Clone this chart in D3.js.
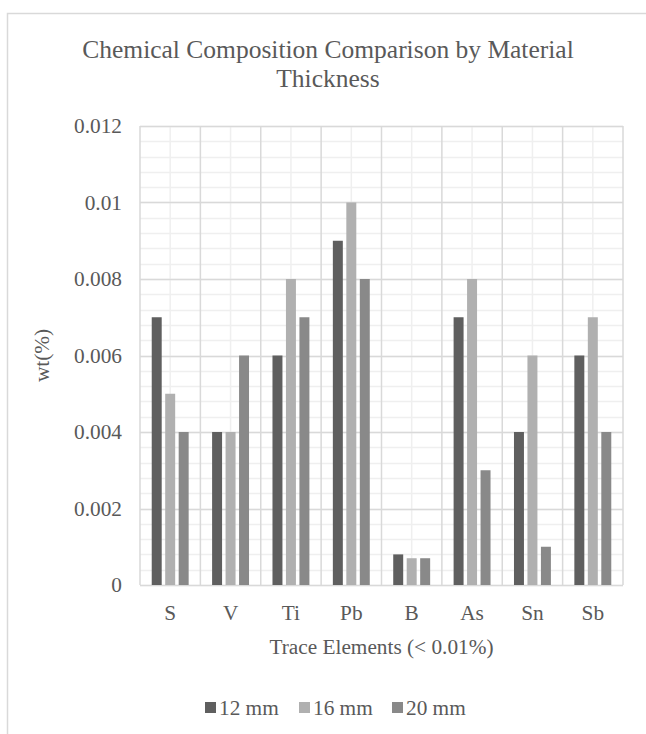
<!DOCTYPE html>
<html>
<head>
<meta charset="utf-8">
<script src="https://cdn.jsdelivr.net/npm/d3@7"></script>
<style>
body{margin:0;background:#fff;}
text{font-family:"Liberation Serif","Times New Roman",serif;fill:#595959;}
</style>
</head>
<body>
<div id="chart"></div>
<script>
var elements = ["S", "V", "Ti", "Pb", "B", "As", "Sn", "Sb"];
var seriesNames = ["12 mm", "16 mm", "20 mm"];
var mm12 = [0.007, 0.004, 0.006, 0.009, 0.0008, 0.007, 0.004, 0.006];
var mm16 = [0.005, 0.004, 0.008, 0.010, 0.0007, 0.008, 0.006, 0.007];
var mm20 = [0.004, 0.006, 0.007, 0.008, 0.0007, 0.003, 0.001, 0.004];
var yTicks = [0, 0.002, 0.004, 0.006, 0.008, 0.01, 0.012];
var colors = ["#5f5f5f", "#b0b0b0", "#898989"];

var W = 646, H = 734;
var plot = {left: 140, right: 623, top: 126, bottom: 585};
var fs = 21.3;

var svg = d3.select("#chart").append("svg")
    .attr("width", W).attr("height", H);

//chart border, runs off the right and bottom
svg.append("rect")
    .attr("x", 7.5).attr("y", 13.5)
    .attr("width", W + 20).attr("height", H + 20)
    .attr("fill", "none").attr("stroke", "#d9d9d9").attr("stroke-width", 1.5);

var x = d3.scaleBand().domain(elements).range([plot.left, plot.right]);
var y = d3.scaleLinear().domain([0, 0.012]).range([plot.bottom, plot.top]);
var inner = d3.scaleBand().domain(seriesNames)
    .range([0, x.bandwidth()]).paddingInner(0.26).paddingOuter(0.87);

function py(d){ return Math.round(y(d)) + 0.5; }

//minor gridlines
var minor = d3.range(0, 0.0120001, 0.0004);
svg.append("g").selectAll("line").data(minor).enter().append("line")
    .attr("x1", plot.left).attr("x2", plot.right)
    .attr("y1", py).attr("y2", py)
    .attr("stroke", "#efefef").attr("stroke-width", 1.5);
svg.append("g").selectAll("line").data(elements).enter().append("line")
    .attr("x1", function(d){ return x(d) + x.bandwidth()/2; })
    .attr("x2", function(d){ return x(d) + x.bandwidth()/2; })
    .attr("y1", plot.top).attr("y2", plot.bottom)
    .attr("stroke", "#efefef").attr("stroke-width", 1.5);

//major gridlines
svg.append("g").selectAll("line").data(yTicks).enter().append("line")
    .attr("x1", plot.left).attr("x2", plot.right)
    .attr("y1", py).attr("y2", py)
    .attr("stroke", "#d9d9d9").attr("stroke-width", 1.5);
var bounds = elements.map(function(d){ return x(d); }).concat([plot.right]);
svg.append("g").selectAll("line").data(bounds).enter().append("line")
    .attr("x1", function(d){ return d; }).attr("x2", function(d){ return d; })
    .attr("y1", plot.top).attr("y2", plot.bottom)
    .attr("stroke", "#d9d9d9").attr("stroke-width", 1.5);

//bars
var series = [mm12, mm16, mm20];
series.forEach(function(vals, s){
    svg.append("g").selectAll("rect").data(vals).enter().append("rect")
        .attr("x", function(d, i){ return x(elements[i]) + inner(seriesNames[s]); })
        .attr("width", inner.bandwidth())
        .attr("y", function(d){ return y(d); })
        .attr("height", function(d){ return plot.bottom - y(d); })
        .attr("fill", colors[s]);
});

//axes
var yAxis = svg.append("g")
    .attr("transform", "translate(" + plot.left + ",0)")
    .call(d3.axisLeft(y).tickValues(yTicks).tickSize(0).tickPadding(18)
        .tickFormat(function(d){ return String(+d.toFixed(3)); }));
yAxis.select(".domain").remove();
yAxis.selectAll("text").attr("font-size", fs).attr("fill", "#595959")
    .attr("font-family", "Liberation Serif");

var xAxis = svg.append("g")
    .attr("transform", "translate(0," + plot.bottom + ")")
    .call(d3.axisBottom(x).tickSize(0).tickPadding(20));
xAxis.select(".domain").remove();
xAxis.selectAll("text").attr("font-size", fs).attr("fill", "#595959")
    .attr("font-family", "Liberation Serif");

//titles
svg.append("text").attr("x", 328).attr("y", 58).attr("text-anchor", "middle")
    .attr("font-size", 25.5).text("Chemical Composition Comparison by Material");
svg.append("text").attr("x", 328).attr("y", 87).attr("text-anchor", "middle")
    .attr("font-size", 25.5).text("Thickness");
svg.append("text").attr("x", (plot.left + plot.right)/2).attr("y", 654)
    .attr("text-anchor", "middle").attr("font-size", fs)
    .text("Trace Elements (< 0.01%)");
svg.append("text")
    .attr("transform", "translate(49," + (plot.top + plot.bottom)/2 + ") rotate(-90)")
    .attr("text-anchor", "middle").attr("font-size", fs).text("wt(%)");

//legend
var legX = [205, 299, 392];
var legend = svg.append("g").selectAll("g").data(seriesNames).enter().append("g")
    .attr("transform", function(d, i){ return "translate(" + legX[i] + ",715)"; });
legend.append("rect").attr("x", 0).attr("y", -13).attr("width", 11).attr("height", 11)
    .attr("fill", function(d, i){ return colors[i]; });
legend.append("text").attr("x", 14).attr("y", 0)
    .attr("font-size", fs).text(function(d){ return d; });
</script>
</body>
</html>
